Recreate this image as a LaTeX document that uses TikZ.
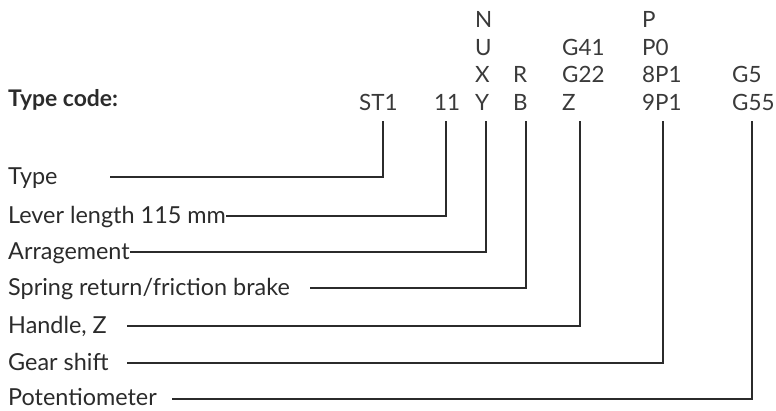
\documentclass[tikz,border=0pt]{standalone}
\usepackage{fontspec}
\setmainfont{Lato}
\definecolor{txt}{HTML}{2B2B2B}
\definecolor{codec}{HTML}{3A3A3A}
\begin{document}
\begin{tikzpicture}[x=1bp,y=-1bp,
  code/.style={font=\fontsize{22.5}{28}\selectfont, align=left, inner sep=0pt, anchor=south west, text=codec},
  lbl/.style={font=\fontsize{23.5}{28}\selectfont, inner sep=0pt, anchor=base west, text=txt},
  conn/.style={draw=txt, line width=1.3bp}]
\useasboundingbox (0,0) rectangle (776,410);
\node[code, font=\fontsize{23}{28}\selectfont\bfseries, text=txt] (title) at (8,111) {Type code:};
\node[code] (c1) at (359,111) {ST1};
\node[code] (c2) at (434,111) {11};
\node[code] (c3) at (475,111) {N\\U\\X\\Y};
\node[code] (c4) at (513,111) {R\\B};
\node[code] (c5) at (562,111) {G41\\G22\\Z};
\node[code] (c6) at (642,111) {P\\P0\\8P1\\9P1};
\node[code] (c7) at (732,111) {G5\\G55};
\node[lbl] (l1) at (8,184) {Type};
\node[lbl] (l2) at (8,223) {Lever length 115 mm};
\node[lbl] (l3) at (8,259) {Arragement};
\node[lbl] (l4) at (8,295) {Spring return/friction brake};
\node[lbl] (l5) at (8,333) {Handle, Z};
\node[lbl] (l6) at (8,370) {Gear shift};
\node[lbl] (l7) at (8,405) {Potentiometer};
\coordinate (v1) at (383,121);
\coordinate (v2) at (446,121);
\coordinate (v3) at (486,121);
\coordinate (v4) at (526,121);
\coordinate (v5) at (580,121);
\coordinate (v6) at (663,121);
\coordinate (v7) at (752,121);
\coordinate (h1) at (110,177);
\coordinate (h2) at (l2.base east |- 0,216);
\coordinate (h3) at (l3.base east |- 0,252);
\coordinate (h4) at (310,288);
\coordinate (h5) at (127,326);
\coordinate (h6) at (127,363);
\coordinate (h7) at (172,399);
\draw[conn] (v1) |- (h1);
\draw[conn] (v2) |- (h2);
\draw[conn] (v3) |- (h3);
\draw[conn] (v4) |- (h4);
\draw[conn] (v5) |- (h5);
\draw[conn] (v6) |- (h6);
\draw[conn] (v7) |- (h7);
\end{tikzpicture}
\end{document}
